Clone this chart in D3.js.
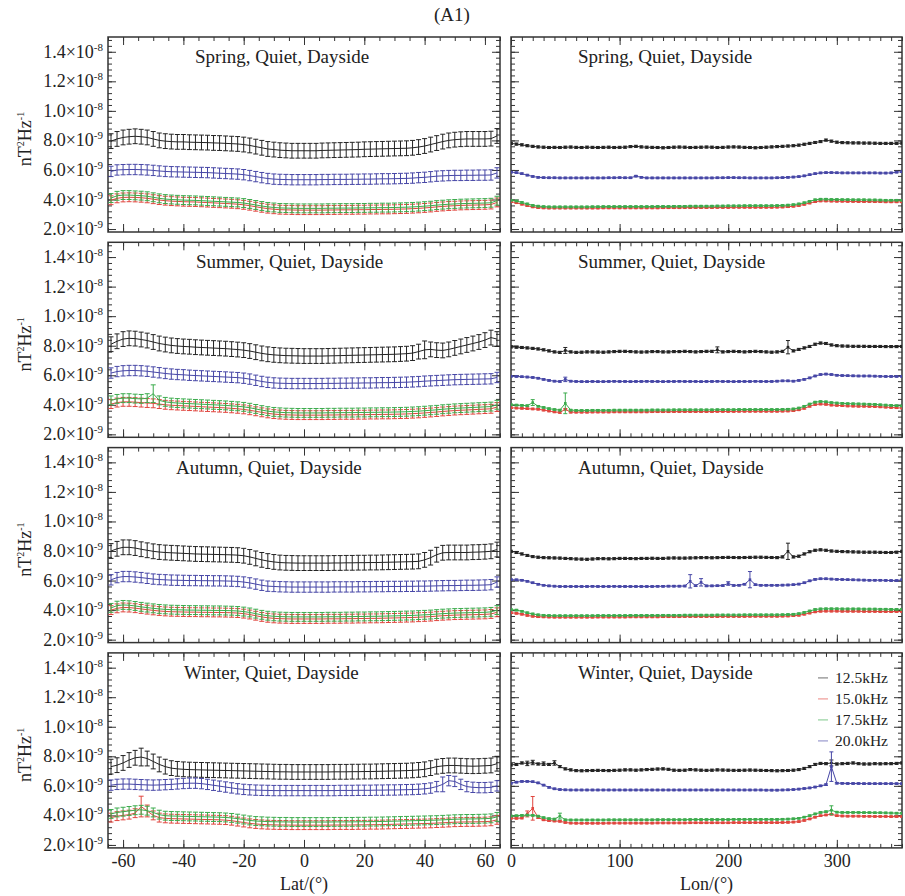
<!DOCTYPE html>
<html>
<head>
<meta charset="utf-8">
<script src="https://cdn.jsdelivr.net/npm/d3@7"></script>
<style>
  body { margin: 0; background: #fff; }
  svg { display: block; }
  text { font-family: "Liberation Serif", "Times New Roman", serif; fill: #222; }
</style>
</head>
<body>
<div id="chart"></div>
<script>
// ---- data (values in units of 1e-9 nT^2/Hz) ----
const UNIT = 1e-9;
const seasons = ["Spring", "Summer", "Autumn", "Winter"];
const freqs = ["12.5kHz", "15.0kHz", "17.5kHz", "20.0kHz"];
const colors = ["#222222", "#e0453e", "#3bab4c", "#4646a6"];
const lat = d3.range(-64, 65, 2);
const lon = d3.range(0, 361, 5);
const latTicks = [-60, -40, -20, 0, 20, 40, 60];
const lonTicks = [0, 100, 200, 300];
const yTicks = [2, 4, 6, 8, 10, 12, 14];

// latitude profiles
const springLat125 = [7.95,8.1,8.2,8.25,8.28,8.25,8.2,8.1,8.0,7.95, 7.92,7.9,7.9,7.88,7.87,7.86,7.85,7.83,7.82,7.8,
  7.78,7.76,7.72,7.66,7.58,7.5,7.42,7.38,7.34,7.32, 7.3,7.3,7.3,7.3,7.3,7.32,7.33,7.34,7.35,7.36,
  7.37,7.38,7.4,7.41,7.42,7.43,7.44,7.45,7.46,7.47, 7.5,7.55,7.62,7.72,7.82,7.92,8.0,8.05,8.08,8.1, 8.1,8.1,8.1,8.12,8.3];
const springLat150 = [3.95,4.08,4.14,4.15,4.14,4.12,4.08,4.02,3.96,3.92, 3.89,3.87,3.85,3.84,3.83,3.81,3.79,3.77,3.75,3.73,
  3.71,3.68,3.64,3.58,3.51,3.44,3.38,3.34,3.31,3.3, 3.29,3.28,3.28,3.28,3.28,3.28,3.29,3.29,3.3,3.3,
  3.3,3.31,3.31,3.32,3.32,3.33,3.33,3.34,3.35,3.36, 3.38,3.4,3.43,3.46,3.5,3.53,3.56,3.58,3.6,3.61, 3.62,3.63,3.64,3.66,3.8];
const springLat175 = [4.1,4.25,4.3,4.3,4.28,4.26,4.22,4.15,4.08,4.03, 4.0,3.98,3.96,3.95,3.94,3.92,3.9,3.88,3.86,3.84,
  3.82,3.8,3.76,3.7,3.63,3.56,3.5,3.46,3.43,3.42, 3.41,3.4,3.4,3.4,3.4,3.4,3.41,3.41,3.42,3.42,
  3.42,3.43,3.43,3.44,3.44,3.45,3.45,3.46,3.47,3.48, 3.5,3.52,3.55,3.58,3.62,3.65,3.68,3.7,3.72,3.73, 3.74,3.75,3.76,3.78,3.92];
const springLat200 = [5.9,6.0,6.02,6.03,6.03,6.02,6.0,5.97,5.93,5.9, 5.88,5.87,5.86,5.85,5.84,5.83,5.82,5.8,5.78,5.76,
  5.74,5.72,5.68,5.62,5.55,5.48,5.42,5.38,5.36,5.35, 5.34,5.34,5.34,5.34,5.34,5.35,5.35,5.36,5.36,5.36,
  5.37,5.37,5.38,5.38,5.39,5.4,5.4,5.41,5.42,5.43, 5.45,5.48,5.5,5.54,5.58,5.6,5.62,5.63,5.63,5.64, 5.64,5.65,5.65,5.66,5.8];

const summerLat125 = [8.1,8.3,8.45,8.5,8.48,8.42,8.35,8.25,8.15,8.08, 8.02,7.98,7.95,7.93,7.9,7.88,7.86,7.84,7.82,7.8,
  7.77,7.74,7.7,7.64,7.56,7.48,7.42,7.38,7.35,7.33, 7.32,7.31,7.3,7.3,7.3,7.3,7.31,7.32,7.33,7.34,
  7.35,7.36,7.37,7.38,7.39,7.4,7.41,7.42,7.44,7.46, 7.5,7.6,7.72,7.75,7.7,7.68,7.75,7.85,7.95,8.05, 8.15,8.25,8.38,8.55,8.45];
const summerLat150 = [4.05,4.15,4.2,4.2,4.18,4.15,4.12,4.1,4.05,4.0, 3.97,3.95,3.93,3.91,3.89,3.87,3.85,3.83,3.81,3.79,
  3.76,3.73,3.69,3.63,3.56,3.49,3.42,3.37,3.34,3.32, 3.31,3.3,3.3,3.3,3.3,3.3,3.31,3.31,3.32,3.32,
  3.32,3.33,3.33,3.34,3.34,3.35,3.35,3.36,3.37,3.38, 3.4,3.42,3.45,3.48,3.51,3.55,3.58,3.61,3.63,3.65, 3.67,3.69,3.71,3.73,3.85];
const summerLat175 = [4.3,4.4,4.45,4.45,4.42,4.4,4.45,4.75,4.3,4.2, 4.15,4.12,4.1,4.08,4.06,4.04,4.02,4.0,3.98,3.96,
  3.93,3.9,3.86,3.8,3.72,3.64,3.57,3.52,3.49,3.47, 3.46,3.45,3.45,3.45,3.45,3.45,3.46,3.46,3.47,3.47,
  3.47,3.48,3.48,3.49,3.49,3.5,3.5,3.51,3.52,3.53, 3.55,3.57,3.6,3.63,3.66,3.7,3.73,3.76,3.78,3.8, 3.82,3.84,3.86,3.88,4.0];
const summerLat200 = [6.15,6.25,6.3,6.32,6.32,6.3,6.27,6.22,6.17,6.12, 6.08,6.05,6.03,6.0,5.98,5.96,5.94,5.92,5.9,5.88,
  5.86,5.84,5.8,5.74,5.66,5.58,5.52,5.48,5.46,5.45, 5.44,5.44,5.44,5.44,5.44,5.44,5.45,5.45,5.46,5.46,
  5.47,5.47,5.48,5.48,5.49,5.5,5.5,5.51,5.52,5.53, 5.55,5.57,5.6,5.62,5.64,5.66,5.68,5.7,5.71,5.72, 5.73,5.74,5.75,5.76,5.85];

const autumnLat125 = [8.0,8.15,8.25,8.25,8.2,8.12,8.05,7.98,7.93,7.9, 7.88,7.86,7.84,7.82,7.8,7.79,7.78,7.77,7.76,7.75,
  7.74,7.72,7.68,7.6,7.5,7.4,7.32,7.26,7.22,7.2, 7.19,7.18,7.18,7.18,7.18,7.18,7.18,7.19,7.19,7.2,
  7.2,7.21,7.21,7.22,7.22,7.23,7.24,7.25,7.26,7.27, 7.28,7.3,7.4,7.55,7.75,7.88,7.9,7.9,7.9,7.9, 7.92,7.93,7.95,7.98,8.1];
const autumnLat150 = [4.0,4.12,4.18,4.17,4.13,4.08,4.03,3.98,3.94,3.91, 3.89,3.88,3.87,3.86,3.86,3.85,3.85,3.84,3.84,3.83,
  3.82,3.8,3.76,3.7,3.62,3.54,3.48,3.44,3.42,3.41, 3.4,3.4,3.4,3.4,3.4,3.4,3.41,3.41,3.41,3.42,
  3.42,3.43,3.43,3.44,3.44,3.45,3.46,3.47,3.48,3.49, 3.5,3.52,3.54,3.56,3.59,3.62,3.64,3.66,3.67,3.68, 3.69,3.7,3.71,3.74,3.85];
const autumnLat175 = [4.15,4.3,4.35,4.33,4.28,4.22,4.17,4.12,4.08,4.05, 4.03,4.02,4.01,4.0,4.0,3.99,3.99,3.98,3.98,3.97,
  3.96,3.94,3.9,3.84,3.76,3.68,3.62,3.58,3.56,3.55, 3.54,3.54,3.54,3.54,3.54,3.54,3.55,3.55,3.55,3.56,
  3.56,3.57,3.57,3.58,3.58,3.59,3.6,3.61,3.62,3.63, 3.64,3.66,3.68,3.7,3.73,3.76,3.78,3.8,3.81,3.82, 3.83,3.84,3.85,3.88,4.0];
const autumnLat200 = [6.05,6.2,6.27,6.27,6.24,6.2,6.15,6.1,6.07,6.05, 6.03,6.02,6.01,6.0,6.0,5.99,5.99,5.98,5.98,5.97,
  5.96,5.94,5.9,5.84,5.76,5.68,5.62,5.6,5.58,5.57, 5.56,5.56,5.56,5.56,5.56,5.56,5.56,5.57,5.57,5.57,
  5.57,5.58,5.58,5.58,5.59,5.59,5.6,5.6,5.6,5.61, 5.61,5.62,5.62,5.63,5.64,5.65,5.66,5.66,5.67,5.68, 5.68,5.69,5.7,5.72,5.9];

const winterLat125 = [7.3,7.4,7.55,7.75,7.9,7.95,7.85,7.65,7.45,7.3, 7.2,7.15,7.12,7.1,7.09,7.08,7.07,7.06,7.05,7.04,
  7.03,7.02,7.01,7.0,6.99,6.98,6.97,6.96,6.95,6.95, 6.94,6.94,6.94,6.94,6.94,6.94,6.94,6.95,6.95,6.95,
  6.96,6.96,6.97,6.97,6.98,6.99,7.0,7.01,7.02,7.03, 7.05,7.08,7.12,7.2,7.3,7.35,7.38,7.38,7.36,7.34, 7.33,7.34,7.36,7.38,7.5];
const winterLat150 = [3.85,3.95,4.0,4.05,4.15,4.6,4.3,4.0,3.85,3.8, 3.78,3.77,3.76,3.75,3.74,3.73,3.72,3.71,3.7,3.68,
  3.64,3.58,3.52,3.46,3.42,3.39,3.37,3.36,3.35,3.35, 3.34,3.34,3.34,3.34,3.34,3.34,3.34,3.35,3.35,3.35,
  3.35,3.36,3.36,3.37,3.37,3.38,3.39,3.4,3.41,3.42, 3.43,3.44,3.45,3.46,3.48,3.5,3.52,3.54,3.55,3.56, 3.56,3.57,3.58,3.6,3.7];
const winterLat175 = [4.1,4.2,4.25,4.3,4.35,4.38,4.32,4.2,4.05,3.98, 3.96,3.95,3.94,3.93,3.92,3.91,3.9,3.89,3.88,3.86,
  3.83,3.78,3.72,3.66,3.62,3.6,3.58,3.57,3.56,3.56, 3.55,3.55,3.55,3.55,3.55,3.55,3.55,3.56,3.56,3.56,
  3.56,3.57,3.57,3.58,3.58,3.59,3.6,3.61,3.62,3.63, 3.64,3.65,3.66,3.67,3.68,3.7,3.72,3.74,3.75,3.76, 3.76,3.77,3.78,3.8,3.9];
const winterLat200 = [6.05,6.1,6.12,6.12,6.1,6.08,6.06,6.05,6.06,6.08, 6.1,6.13,6.16,6.18,6.18,6.15,6.1,6.04,5.98,5.92,
  5.86,5.8,5.76,5.73,5.71,5.7,5.69,5.68,5.68,5.68, 5.68,5.68,5.68,5.68,5.68,5.68,5.68,5.68,5.69,5.69,
  5.69,5.7,5.7,5.7,5.71,5.71,5.72,5.72,5.73,5.74, 5.75,5.77,5.8,5.85,5.95,6.1,6.35,6.3,6.1,5.95, 5.9,5.88,5.88,5.9,6.0];

// longitude profiles
const springLon125 = [7.8,7.75,7.7,7.64,7.6,7.56,7.54,7.52,7.53,7.52,7.54,7.55, 7.53,7.52,7.54,7.53,7.52,7.53,7.54,7.52,7.53,7.54,7.58,7.6,
  7.56,7.54,7.53,7.52,7.5,7.52,7.54,7.55,7.54,7.52,7.53,7.54, 7.55,7.54,7.52,7.53,7.55,7.56,7.55,7.53,7.52,7.5,7.52,7.54,
  7.56,7.58,7.6,7.62,7.64,7.68,7.74,7.8,7.86,7.92,8.02,7.95, 7.88,7.85,7.84,7.83,7.83,7.82,7.82,7.81,7.8,7.8,7.8,7.8, 7.82];
const springLon150 = [3.85,3.78,3.68,3.58,3.5,3.45,3.43,3.42,3.42,3.42,3.42,3.42, 3.42,3.42,3.42,3.42,3.42,3.43,3.43,3.43,3.43,3.43,3.43,3.43,
  3.43,3.43,3.43,3.43,3.44,3.44,3.44,3.44,3.45,3.45,3.45,3.45, 3.45,3.45,3.46,3.46,3.46,3.47,3.47,3.47,3.47,3.47,3.47,3.47,
  3.47,3.48,3.49,3.51,3.54,3.59,3.67,3.76,3.85,3.9,3.9,3.89, 3.88,3.88,3.87,3.87,3.86,3.86,3.86,3.85,3.85,3.84,3.84,3.84, 3.84];
const springLon175 = [3.95,3.9,3.8,3.7,3.6,3.55,3.52,3.5,3.5,3.5,3.5,3.5, 3.5,3.5,3.5,3.51,3.51,3.52,3.52,3.52,3.52,3.52,3.52,3.52,
  3.52,3.52,3.52,3.53,3.53,3.53,3.54,3.54,3.54,3.55,3.55,3.55, 3.55,3.55,3.56,3.56,3.57,3.57,3.57,3.58,3.58,3.58,3.58,3.58,
  3.58,3.59,3.6,3.62,3.65,3.7,3.78,3.88,3.98,4.02,4.02,4.0, 4.0,3.99,3.99,3.98,3.98,3.98,3.97,3.97,3.96,3.95,3.95,3.95, 3.95];
const springLon200 = [5.85,5.82,5.75,5.65,5.56,5.5,5.48,5.47,5.47,5.46,5.46,5.46, 5.46,5.46,5.46,5.46,5.46,5.46,5.47,5.47,5.48,5.47,5.47,5.58,
  5.5,5.46,5.46,5.46,5.46,5.46,5.46,5.46,5.46,5.46,5.46,5.46, 5.46,5.46,5.47,5.47,5.48,5.48,5.47,5.47,5.46,5.46,5.46,5.46,
  5.46,5.47,5.48,5.5,5.52,5.55,5.6,5.68,5.75,5.8,5.82,5.82, 5.81,5.8,5.8,5.8,5.8,5.8,5.8,5.8,5.79,5.79,5.8,5.85, 5.88];

const summerLon125 = [7.92,7.9,7.88,7.85,7.82,7.78,7.72,7.65,7.58,7.55,7.68,7.58, 7.55,7.56,7.58,7.58,7.57,7.56,7.58,7.6,7.62,7.62,7.6,7.58,
  7.57,7.58,7.6,7.6,7.58,7.58,7.6,7.6,7.62,7.6,7.58,7.6, 7.62,7.62,7.72,7.58,7.6,7.62,7.6,7.58,7.6,7.62,7.6,7.58,
  7.56,7.58,7.62,7.9,7.65,7.75,7.85,7.95,8.1,8.18,8.15,8.05, 8.0,7.98,7.97,7.96,7.96,7.96,7.95,7.95,7.95,7.94,7.94,7.94, 7.95];
const summerLon150 = [3.8,3.78,3.76,3.74,3.72,3.7,3.64,3.58,3.52,3.48,3.7,3.5, 3.5,3.5,3.5,3.51,3.51,3.51,3.51,3.52,3.52,3.52,3.52,3.52,
  3.52,3.52,3.53,3.53,3.53,3.53,3.54,3.54,3.54,3.54,3.54,3.54, 3.54,3.54,3.55,3.55,3.55,3.55,3.56,3.56,3.56,3.56,3.56,3.56,
  3.56,3.56,3.57,3.58,3.6,3.66,3.76,3.9,4.02,4.05,4.03,3.98, 3.96,3.94,3.92,3.91,3.9,3.9,3.89,3.88,3.86,3.84,3.82,3.8, 3.78];
const summerLon175 = [4.0,3.98,3.96,3.94,4.15,3.9,3.82,3.74,3.68,3.64,4.1,3.64, 3.62,3.62,3.62,3.63,3.63,3.63,3.63,3.64,3.64,3.64,3.64,3.64,
  3.64,3.64,3.65,3.65,3.65,3.65,3.66,3.66,3.66,3.66,3.66,3.66, 3.66,3.66,3.67,3.67,3.67,3.67,3.68,3.68,3.68,3.68,3.68,3.68,
  3.68,3.68,3.69,3.7,3.72,3.78,3.9,4.05,4.18,4.22,4.2,4.15, 4.12,4.1,4.08,4.07,4.06,4.05,4.04,4.03,4.0,3.98,3.96,3.94, 3.92];
const summerLon200 = [5.93,5.92,5.9,5.88,5.85,5.8,5.72,5.65,5.6,5.58,5.72,5.6, 5.58,5.57,5.57,5.58,5.57,5.57,5.58,5.59,5.58,5.58,5.57,5.58,
  5.58,5.59,5.58,5.58,5.57,5.58,5.58,5.59,5.58,5.58,5.58,5.57, 5.58,5.58,5.59,5.58,5.58,5.57,5.58,5.58,5.58,5.59,5.58,5.58,
  5.58,5.6,5.62,5.62,5.6,5.65,5.72,5.82,5.95,6.05,6.08,6.05, 6.0,5.98,5.97,5.96,5.95,5.95,5.95,5.94,5.93,5.92,5.92,5.92, 5.92];

const autumnLon125 = [7.98,7.9,7.8,7.7,7.62,7.58,7.55,7.54,7.53,7.52,7.5,7.48, 7.46,7.45,7.44,7.46,7.48,7.48,7.47,7.48,7.5,7.5,7.49,7.48,
  7.5,7.5,7.51,7.5,7.5,7.52,7.53,7.52,7.52,7.53,7.54,7.55, 7.55,7.54,7.55,7.56,7.57,7.56,7.55,7.56,7.57,7.58,7.58,7.57,
  7.56,7.55,7.6,7.98,7.6,7.65,7.8,7.95,8.05,8.08,8.05,8.0, 7.98,7.96,7.95,7.94,7.93,7.92,7.92,7.92,7.91,7.9,7.9,7.92, 7.98];
const autumnLon150 = [3.82,3.78,3.72,3.64,3.58,3.55,3.54,3.53,3.52,3.52,3.52,3.52, 3.52,3.52,3.52,3.52,3.53,3.53,3.53,3.53,3.53,3.53,3.54,3.54,
  3.54,3.54,3.54,3.54,3.55,3.55,3.55,3.55,3.56,3.56,3.56,3.56, 3.56,3.56,3.56,3.57,3.57,3.57,3.57,3.57,3.58,3.58,3.58,3.58,
  3.58,3.58,3.59,3.6,3.62,3.65,3.72,3.8,3.88,3.92,3.93,3.93, 3.93,3.92,3.92,3.92,3.92,3.91,3.91,3.91,3.9,3.9,3.9,3.9, 3.9];
const autumnLon175 = [4.03,4.0,3.92,3.82,3.74,3.68,3.65,3.63,3.62,3.62,3.62,3.62, 3.62,3.62,3.62,3.62,3.63,3.63,3.63,3.63,3.63,3.63,3.64,3.64,
  3.64,3.64,3.64,3.64,3.65,3.65,3.65,3.65,3.66,3.66,3.66,3.66, 3.66,3.66,3.67,3.67,3.67,3.67,3.67,3.68,3.68,3.68,3.68,3.68,
  3.68,3.68,3.69,3.7,3.72,3.76,3.84,3.94,4.04,4.08,4.09,4.09, 4.09,4.08,4.08,4.08,4.08,4.07,4.07,4.07,4.06,4.06,4.05,4.05, 4.05];
const autumnLon200 = [6.06,6.05,6.02,5.95,5.85,5.75,5.68,5.64,5.62,5.6,5.6,5.6, 5.6,5.6,5.6,5.61,5.6,5.6,5.6,5.61,5.6,5.6,5.6,5.6,
  5.6,5.6,5.6,5.61,5.61,5.62,5.62,5.62,5.63,5.95,5.65,5.88, 5.64,5.64,5.65,5.66,5.8,5.67,5.68,5.75,6.06,5.72,5.68,5.68,
  5.68,5.68,5.69,5.7,5.72,5.76,5.85,5.98,6.08,6.12,6.12,6.1, 6.08,6.07,6.06,6.05,6.04,6.03,6.02,6.02,6.02,6.01,6.0,6.0, 6.05];

const winterLon125 = [7.42,7.45,7.55,7.52,7.58,7.48,7.5,7.45,7.55,7.3,7.15,7.08, 7.03,7.02,7.03,7.04,7.05,7.04,7.03,7.05,7.06,7.08,7.08,7.06,
  7.08,7.1,7.12,7.14,7.15,7.12,7.06,7.05,7.06,7.1,7.08,7.06, 7.05,7.06,7.08,7.07,7.06,7.05,7.05,7.06,7.07,7.06,7.05,7.04,
  7.03,7.02,7.03,7.04,7.06,7.1,7.18,7.3,7.45,7.52,7.5,7.55, 7.48,7.5,7.52,7.55,7.5,7.48,7.48,7.5,7.49,7.5,7.5,7.52, 7.55];
const winterLon150 = [3.81,3.8,3.82,4.1,4.48,3.85,3.7,3.65,3.62,3.6,3.52,3.48, 3.47,3.47,3.47,3.47,3.47,3.47,3.48,3.48,3.48,3.48,3.48,3.48,
  3.48,3.48,3.48,3.49,3.49,3.49,3.49,3.49,3.49,3.5,3.5,3.5, 3.5,3.5,3.5,3.5,3.5,3.51,3.51,3.51,3.51,3.51,3.51,3.51,
  3.51,3.51,3.52,3.53,3.55,3.58,3.66,3.76,3.88,3.98,4.03,4.08, 3.98,3.96,3.95,3.95,3.95,3.94,3.94,3.93,3.93,3.93,3.92,3.92, 3.92];
const winterLon175 = [3.96,3.98,4.0,4.02,4.0,3.95,3.85,3.78,3.75,3.95,3.7,3.69, 3.69,3.69,3.69,3.69,3.69,3.69,3.7,3.7,3.7,3.7,3.7,3.7,
  3.7,3.7,3.7,3.71,3.71,3.71,3.71,3.71,3.71,3.72,3.72,3.72, 3.72,3.72,3.72,3.72,3.72,3.73,3.73,3.73,3.73,3.73,3.73,3.73,
  3.73,3.73,3.74,3.75,3.77,3.8,3.88,3.98,4.1,4.2,4.25,4.35, 4.22,4.2,4.2,4.2,4.2,4.19,4.19,4.18,4.18,4.17,4.16,4.15, 4.15];
const winterLon200 = [6.18,6.25,6.3,6.3,6.28,6.2,6.05,5.9,5.8,5.75,5.73,5.72, 5.72,5.72,5.72,5.72,5.72,5.72,5.72,5.72,5.72,5.72,5.72,5.72,
  5.72,5.72,5.72,5.72,5.72,5.72,5.72,5.72,5.72,5.72,5.72,5.72, 5.72,5.72,5.72,5.72,5.72,5.72,5.72,5.72,5.72,5.72,5.72,5.71,
  5.71,5.71,5.72,5.73,5.75,5.78,5.82,5.86,5.92,6.0,6.08,7.3, 6.18,6.17,6.16,6.16,6.16,6.15,6.15,6.15,6.15,6.15,6.15,6.15, 6.15];

// typical error half-widths per frequency, and larger ones
const latErr = [0.5, 0.3, 0.3, 0.35];
const lonErr = [0.07, 0.05, 0.05, 0.05];
const latSpikes = [["Summer", 2, -50, 0.6], ["Summer", 0, 40, 0.6], ["Winter", 1, -54, 0.7], ["Winter", 1, -52, 0.4],
  ["Winter", 3, 46, 0.5], ["Winter", 0, -54, 0.6]];
const lonSpikes = [["Summer", 0, 50, 0.2], ["Summer", 0, 190, 0.2], ["Summer", 0, 255, 0.45], ["Summer", 2, 20, 0.2],
  ["Summer", 2, 50, 0.7], ["Summer", 3, 50, 0.15], ["Autumn", 0, 255, 0.55], ["Autumn", 3, 165, 0.45],
  ["Autumn", 3, 175, 0.25], ["Autumn", 3, 200, 0.12], ["Autumn", 3, 220, 0.55], ["Winter", 0, 15, 0.15],
  ["Winter", 0, 20, 0.15], ["Winter", 0, 30, 0.12], ["Winter", 0, 40, 0.15], ["Winter", 3, 295, 1.0],
  ["Winter", 1, 15, 0.2], ["Winter", 1, 20, 0.8], ["Winter", 2, 45, 0.2], ["Winter", 2, 295, 0.3], ["Winter", 0, 295, 0.2]];

const latData = {
  Spring: [springLat125, springLat150, springLat175, springLat200],
  Summer: [summerLat125, summerLat150, summerLat175, summerLat200],
  Autumn: [autumnLat125, autumnLat150, autumnLat175, autumnLat200],
  Winter: [winterLat125, winterLat150, winterLat175, winterLat200]
};
const lonData = {
  Spring: [springLon125, springLon150, springLon175, springLon200],
  Summer: [summerLon125, summerLon150, summerLon175, summerLon200],
  Autumn: [autumnLon125, autumnLon150, autumnLon175, autumnLon200],
  Winter: [winterLon125, winterLon150, winterLon175, winterLon200]
};

// ---- layout ----
const W = 905, H = 896;
const top0 = 37, pitch = 205.3, ph = 195;
const leftX = [108, 500], rightX = [511, 902];
const leftTitleX = [195, 196, 176, 184], rightTitleX = 578;
const drawOrder = [0, 3, 1, 2];

const svg = d3.select("#chart").append("svg").attr("width", W).attr("height", H);

svg.append("text").attr("x", 452).attr("y", 21).attr("text-anchor", "middle")
  .style("font-size", "19px").text("(A1)");

function expLabel(sel, v) {
  const e = Math.floor(Math.log10(v * UNIT) + 1e-9);
  const m = (v * UNIT / Math.pow(10, e)).toFixed(1);
  sel.append("tspan").text(m + "\u00d710");
  sel.append("tspan").attr("dy", -7).style("font-size", "11px").text(String(e));
}

function panel(row, side) {
  const season = seasons[row];
  const T = top0 + row * pitch;
  const isLat = side === "lat";
  const xr = isLat ? leftX : rightX;
  const x = d3.scaleLinear().domain(isLat ? [-65, 65] : [0, 360]).range(xr);
  const y = d3.scaleLinear().domain([1.8 * UNIT, 15 * UNIT]).range([T + ph, T]);
  const g = svg.append("g");
  const bottom = row === 3;

  // ticks, inward on all four sides
  const majX = isLat ? latTicks : lonTicks;
  const minX = isLat ? d3.range(-65, 66, 5) : d3.range(0, 361, 10);
  const minY = d3.range(2, 15, 0.4).map(v => v * UNIT);
  const majY = yTicks.map(v => v * UNIT);
  const fmtX = d => String(d);

  g.append("g").attr("transform", `translate(0,${T + ph})`)
    .call(d3.axisBottom(x).tickValues(minX).tickSize(-4).tickFormat(""));
  g.append("g").attr("transform", `translate(0,${T + ph})`)
    .call(d3.axisBottom(x).tickValues(majX).tickSize(-8).tickPadding(6).tickFormat(bottom ? fmtX : ""))
    .call(a => a.selectAll("text").style("font-size", "18px").attr("fill", "#222"));
  g.append("g").attr("transform", `translate(0,${T})`)
    .call(d3.axisTop(x).tickValues(minX).tickSize(-4).tickFormat(""));
  g.append("g").attr("transform", `translate(0,${T})`)
    .call(d3.axisTop(x).tickValues(majX).tickSize(-8).tickFormat(""));
  g.append("g").attr("transform", `translate(${xr[0]},0)`)
    .call(d3.axisLeft(y).tickValues(minY).tickSize(-4).tickFormat(""));
  g.append("g").attr("transform", `translate(${xr[0]},0)`)
    .call(d3.axisLeft(y).tickValues(majY).tickSize(-8).tickFormat(""));
  g.append("g").attr("transform", `translate(${xr[1]},0)`)
    .call(d3.axisRight(y).tickValues(minY).tickSize(-4).tickFormat(""));
  g.append("g").attr("transform", `translate(${xr[1]},0)`)
    .call(d3.axisRight(y).tickValues(majY).tickSize(-8).tickFormat(""));
  g.selectAll(".domain").remove();
  g.selectAll(".tick line").attr("stroke", "#333").attr("stroke-width", 1);

  g.append("rect").attr("x", xr[0]).attr("y", T).attr("width", xr[1] - xr[0]).attr("height", ph)
    .attr("fill", "none").attr("stroke", "#333").attr("stroke-width", 1.5);

  if (isLat) {
    g.selectAll("text.ylab").data(yTicks).join("text").attr("class", "ylab")
      .attr("x", xr[0] - 5).attr("y", d => y(d * UNIT) + 6).attr("text-anchor", "end")
      .style("font-size", "18px")
      .each(function (d) { expLabel(d3.select(this), d); });
    const yl = g.append("text").attr("transform", `translate(31,${T + 102}) rotate(-90)`)
      .attr("text-anchor", "middle").style("font-size", "18px");
    yl.append("tspan").text("nT");
    yl.append("tspan").attr("dy", -7).style("font-size", "10px").text("2");
    yl.append("tspan").attr("dy", 7).text("Hz");
    yl.append("tspan").attr("dy", -7).style("font-size", "10px").text("-1");
  }

  g.append("text").attr("x", isLat ? leftTitleX[row] : rightTitleX).attr("y", T + 26)
    .style("font-size", "19px").text(`${season}, Quiet, Dayside`);

  // series
  const xs = isLat ? lat : lon;
  const series = isLat ? latData[season] : lonData[season];
  const base = isLat ? latErr : lonErr;
  const spikes = isLat ? latSpikes : lonSpikes;
  const cap = isLat ? 2.5 : 2;
  const line = d3.line().x(d => x(d[0])).y(d => y(d[1] * UNIT));
  const clip = "clip-" + row + side;
  g.append("clipPath").attr("id", clip).append("rect")
    .attr("x", xr[0]).attr("y", T).attr("width", xr[1] - xr[0]).attr("height", ph);
  const plot = g.append("g").attr("clip-path", `url(#${clip})`);

  drawOrder.forEach(fi => {
    const pts = xs.map((xv, i) => {
      const sp = spikes.find(s => s[0] === season && s[1] === fi && s[2] === xv);
      return [xv, series[fi][i], sp ? sp[3] : base[fi]];
    });
    const sg = plot.append("g").attr("stroke", colors[fi]).attr("fill", "none").attr("stroke-width", 1);
    sg.append("path").datum(pts).attr("d", line);
    const eb = sg.selectAll("g.eb").data(pts).join("g");
    eb.append("line").attr("x1", d => x(d[0])).attr("x2", d => x(d[0]))
      .attr("y1", d => y((d[1] - d[2]) * UNIT)).attr("y2", d => y((d[1] + d[2]) * UNIT));
    eb.append("line").attr("x1", d => x(d[0]) - cap).attr("x2", d => x(d[0]) + cap)
      .attr("y1", d => y((d[1] + d[2]) * UNIT)).attr("y2", d => y((d[1] + d[2]) * UNIT));
    eb.append("line").attr("x1", d => x(d[0]) - cap).attr("x2", d => x(d[0]) + cap)
      .attr("y1", d => y((d[1] - d[2]) * UNIT)).attr("y2", d => y((d[1] - d[2]) * UNIT));
    if (!isLat) {
      sg.selectAll("rect").data(pts).join("rect")
        .attr("x", d => x(d[0]) - 1.3).attr("y", d => y(d[1] * UNIT) - 1.3)
        .attr("width", 2.6).attr("height", 2.6).attr("fill", colors[fi]).attr("stroke", "none");
    }
  });

  if (bottom) {
    g.append("text").attr("x", (xr[0] + xr[1]) / 2).attr("y", T + ph + 42)
      .attr("text-anchor", "middle").style("font-size", "18px")
      .text(isLat ? "Lat/(\u00b0)" : "Lon/(\u00b0)");
  }

  if (!isLat && row === 3) {
    const lg = g.append("g");
    freqs.forEach((f, i) => {
      const ly = T + 25 + i * 21;
      lg.append("line").attr("x1", 818).attr("x2", 828).attr("y1", ly).attr("y2", ly)
        .attr("stroke", colors[i]).attr("stroke-opacity", 0.55).attr("stroke-width", 1.2);
      lg.append("text").attr("x", 835).attr("y", ly + 5).style("font-size", "15.5px").text(f);
    });
  }
}

seasons.forEach((s, r) => { panel(r, "lat"); panel(r, "lon"); });
</script>
</body>
</html>
